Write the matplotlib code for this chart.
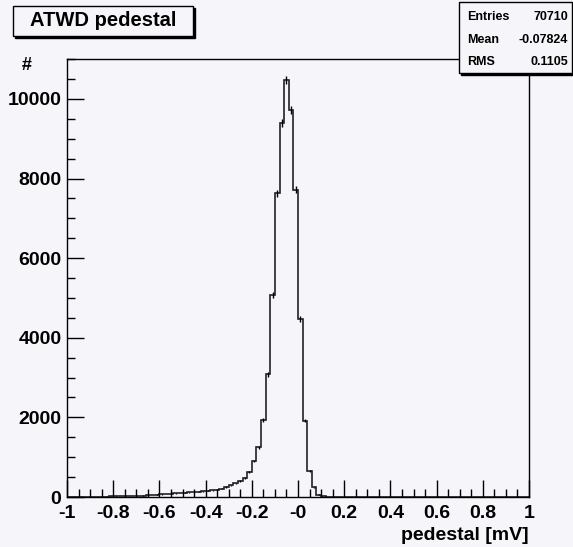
import numpy as np
import matplotlib
matplotlib.use("Agg")
import matplotlib.pyplot as plt
from matplotlib.patches import Rectangle
from matplotlib.ticker import MultipleLocator

# ---- data ----
bin_edges_lo = -1.0
bin_edges_hi = 1.0
n_bins = 100
counts = [
    3, 4, 5, 5, 6, 7, 8, 10, 11, 13,            # -1.00 .. -0.80
    15, 18, 20, 25, 28, 30, 35, 40, 50, 60,     # -0.80 .. -0.60
    70, 75, 80, 90, 100, 105, 115, 125, 135, 145,  # -0.60 .. -0.40
    155, 170, 185, 205, 250, 290, 340, 400, 480, 640,  # -0.40 .. -0.20
    905, 1250, 1935, 3080, 5075, 7630, 9390, 10480, 9720, 7714,  # -0.20 .. 0.00
    4470, 1920, 650, 240, 60, 20, 8, 3, 0, 0,   # 0.00 .. 0.20
    0, 0, 0, 0, 0, 0, 0, 0, 0, 0,
    0, 0, 0, 0, 0, 0, 0, 0, 0, 0,
    0, 0, 0, 0, 0, 0, 0, 0, 0, 0,
    0, 0, 0, 0, 0, 0, 0, 0, 0, 0,
]
title = "ATWD pedestal"
xlabel = "pedestal [mV]"
ylabel = "#"
stats_names = ["Entries", "Mean", "RMS"]
stats_values = ["70710", "-0.07824", "0.1105"]
xticks = [-1, -0.8, -0.6, -0.4, -0.2, 0, 0.2, 0.4, 0.6, 0.8, 1]
xtick_labels = ["-1", "-0.8", "-0.6", "-0.4", "-0.2", "-0", "0.2", "0.4", "0.6", "0.8", "1"]
yticks = [0, 2000, 4000, 6000, 8000, 10000]

W, H = 573, 547
bg = "#f6f5f9"
plt.rcParams['font.family'] = ['Liberation Sans', 'DejaVu Sans']
plt.rcParams['font.weight'] = 'bold'

fig = plt.figure(figsize=(W / 100, H / 100), dpi=100, facecolor=bg)
L, R, T, B = 67, 529, 59, 497
ax = fig.add_axes([L / W, 1 - B / H, (R - L) / W, (B - T) / H])
ax.set_facecolor(bg)

edges = np.linspace(bin_edges_lo, bin_edges_hi, n_bins + 1)
counts_arr = np.array(counts, dtype=float)
ax.stairs(counts_arr, edges, color="#222222", linewidth=1.2)
centers = 0.5 * (edges[:-1] + edges[1:])
mask = counts_arr > 0
ax.errorbar(centers[mask], counts_arr[mask], yerr=np.sqrt(counts_arr[mask]),
            fmt="none", ecolor="black", elinewidth=1.0, capsize=0)

ax.set_xlim(-1, 1)
ax.set_ylim(0, 1.05 * max(counts))

ax.set_xticks(xticks)
ax.set_xticklabels(xtick_labels)
ax.set_yticks(yticks)
ax.xaxis.set_minor_locator(MultipleLocator(0.05))
ax.yaxis.set_minor_locator(MultipleLocator(500))
ax.tick_params(axis="both", which="major", direction="in", length=12, width=1,
               labelsize=14, top=False, right=False)
ax.tick_params(axis="both", which="minor", direction="in", length=6, width=1,
               top=False, right=False)
ax.tick_params(axis="x", which="major", pad=6)
ax.tick_params(axis="y", which="major", pad=4)
for lab in ax.get_xticklabels() + ax.get_yticklabels():
    lab.set_fontweight("bold")
for s in ax.spines.values():
    s.set_linewidth(1.0)
    s.set_color("black")

# axis titles
fig.text(R / W, 1 - 535 / H, xlabel, ha="right", va="center", fontsize=14, fontweight="bold")
fig.text(27 / W, 1 - 66 / H, ylabel, ha="center", va="center", fontsize=13, fontweight="bold")

# title box with shadow
tx0, ty0, tx1, ty1 = 13, 6, 193, 36
fig.patches.append(Rectangle((tx0 / W + 2 / W, 1 - (ty1 + 2) / H), (tx1 - tx0) / W, (ty1 - ty0) / H,
                             transform=fig.transFigure, facecolor="black", edgecolor="black", zorder=1))
fig.patches.append(Rectangle((tx0 / W, 1 - ty1 / H), (tx1 - tx0) / W, (ty1 - ty0) / H,
                             transform=fig.transFigure, facecolor=bg, edgecolor="black",
                             linewidth=1.0, zorder=2))
fig.text((tx0 + tx1) / 2 / W, 1 - (ty0 + ty1) / 2 / H, title, ha="center", va="center",
         fontsize=14.5, fontweight="bold", zorder=3)

# stats box
sx0, sy0, sx1, sy1 = 459, 2, 572, 73
fig.patches.append(Rectangle((sx0 / W + 1.5 / W, 1 - (sy1 + 1.5) / H), (sx1 - sx0) / W, (sy1 - sy0) / H,
                             transform=fig.transFigure, facecolor="black", edgecolor="black", zorder=1))
fig.patches.append(Rectangle((sx0 / W, 1 - sy1 / H), (sx1 - sx0) / W, (sy1 - sy0) / H,
                             transform=fig.transFigure, facecolor=bg, edgecolor="black",
                             linewidth=1.0, zorder=2))
row_y = [17, 40, 62]
for name, val, yy in zip(stats_names, stats_values, row_y):
    fig.text(467 / W, 1 - yy / H, name, ha="left", va="center", fontsize=9, fontweight="bold", zorder=3)
    fig.text(568 / W, 1 - yy / H, val, ha="right", va="center", fontsize=9, fontweight="bold", zorder=3)

fig.savefig("out.png", dpi=100, facecolor=bg)
